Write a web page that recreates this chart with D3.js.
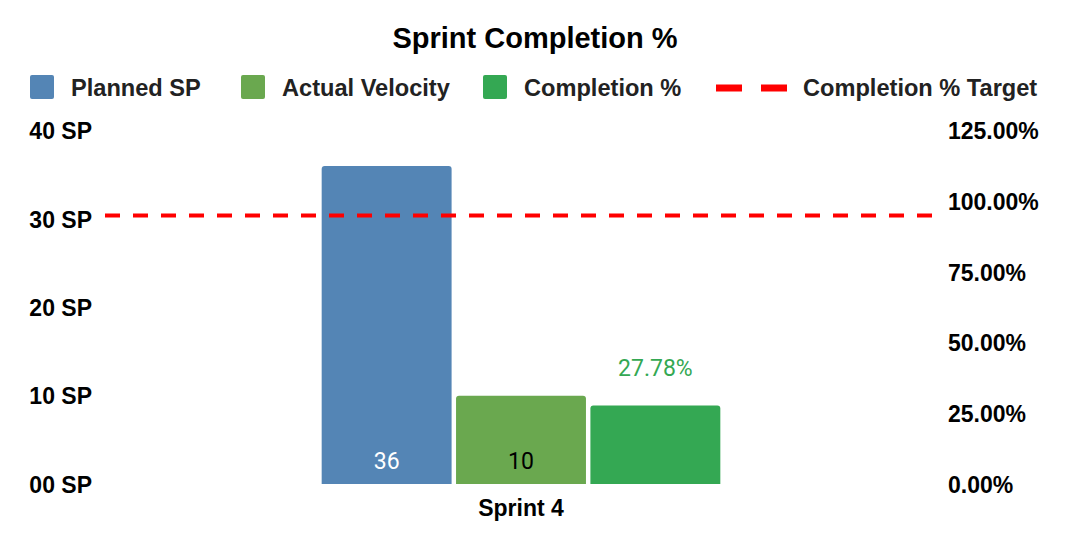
<!DOCTYPE html>
<html>
<head>
<meta charset="utf-8">
<script src="https://cdn.jsdelivr.net/npm/d3@7"></script>
<style>
  html, body { margin: 0; padding: 0; background: #fff; }
  svg { display: block; }
</style>
</head>
<body>
<svg id="chart" width="1070" height="548"></svg>
<script>
// ---- data ----
const categories = ["Sprint 4"];
const seriesNames = ["Planned SP", "Actual Velocity", "Completion %"];
const plannedSP = [36];
const actualVelocity = [10];
const completionPct = [0.2778];
const completionTarget = [0.95];
const leftTicks = [0, 10, 20, 30, 40];
const rightTicks = [0, 0.25, 0.5, 0.75, 1.0, 1.25];
const legendLabels = ["Planned SP", "Actual Velocity", "Completion %", "Completion % Target"];
const colors = ["#5485b5", "#6aa84f", "#34a853", "#ff0000"];

const svg = d3.select("#chart");
const W = 1070, H = 548;
const plot = { left: 105, right: 935, top: 130.7, bottom: 484 };

const x0 = d3.scaleBand().domain(categories).range([plot.left, plot.right]).paddingInner(0).paddingOuter(0.541);
const x1 = d3.scaleBand().domain(seriesNames).range([0, x0.bandwidth()]).paddingInner(0.033).paddingOuter(0);
const yL = d3.scaleLinear().domain([0, 40]).range([plot.bottom, plot.top]);
const yR = d3.scaleLinear().domain([0, 1.25]).range([plot.bottom, plot.top]);

const FONT = "'Liberation Sans', Arial, Helvetica, sans-serif";
const FONT2 = "Roboto, 'Liberation Sans', Arial, sans-serif";

// Title
svg.append("text").attr("x", 535).attr("y", 48).attr("text-anchor", "middle")
  .attr("font-family", FONT).attr("font-weight", "bold").attr("font-size", 29)
  .attr("fill", "#000").text("Sprint Completion %");

// Legend
const legendX = [30, 241, 483, 716];
const legend = svg.append("g");
legendLabels.forEach((lab, i) => {
  const g = legend.append("g").attr("transform", `translate(${legendX[i]},0)`);
  const symW = i === 3 ? 71 : 24;
  if (i === 3) {
    g.append("line").attr("x1", 0).attr("x2", symW).attr("y1", 88).attr("y2", 88)
      .attr("stroke", colors[3]).attr("stroke-width", 7).attr("stroke-dasharray", "26 19");
  } else {
    g.append("rect").attr("x", 0).attr("y", 75).attr("width", 24).attr("height", 24)
      .attr("rx", 2).attr("fill", colors[i]);
  }
  g.append("text").attr("x", symW + (i === 3 ? 16 : 17)).attr("y", 96)
    .attr("font-family", FONT).attr("font-weight", "bold").attr("font-size", 23.6)
    .attr("fill", "#222").text(lab);
});

// Left axis
const axL = svg.append("g").attr("transform", `translate(92,0)`)
  .call(d3.axisLeft(yL).tickValues(leftTicks).tickSize(0).tickPadding(0)
    .tickFormat(d => d3.format("02d")(d) + " SP"));
axL.select(".domain").remove();
axL.selectAll("text").attr("font-family", FONT).attr("font-weight", "bold")
  .attr("font-size", 23).attr("fill", "#000").attr("dy", "0.36em");

// Right axis
const axR = svg.append("g").attr("transform", `translate(948,0)`)
  .call(d3.axisRight(yR).tickValues(rightTicks).tickSize(0).tickPadding(0)
    .tickFormat(d3.format(".2%")));
axR.select(".domain").remove();
axR.selectAll("text").attr("font-family", FONT).attr("font-weight", "bold")
  .attr("font-size", 23).attr("fill", "#000").attr("dy", "0.36em");

// Bars
function topRounded(x, y, w, h, r) {
  r = Math.min(r, h, w / 2);
  return `M${x},${y + h}V${y + r}Q${x},${y} ${x + r},${y}H${x + w - r}Q${x + w},${y} ${x + w},${y + r}V${y + h}Z`;
}
const rows = categories.map((c, i) => ({
  cat: c,
  vals: [
    { s: seriesNames[0], y: yL(plannedSP[i]), v: plannedSP[i] },
    { s: seriesNames[1], y: yL(actualVelocity[i]), v: actualVelocity[i] },
    { s: seriesNames[2], y: yR(completionPct[i]), v: completionPct[i] }
  ]
}));
const groups = svg.selectAll("g.grp").data(rows).enter().append("g").attr("class", "grp")
  .attr("transform", d => `translate(${x0(d.cat) + 1},0)`);
groups.selectAll("path").data(d => d.vals).enter().append("path")
  .attr("d", d => topRounded(x1(d.s), d.y, x1.bandwidth(), plot.bottom - d.y, 3))
  .attr("fill", (d, i) => colors[i]);

// Data labels
groups.each(function (d) {
  const g = d3.select(this);
  const v = d.vals;
  g.append("text").attr("x", x1(v[0].s) + x1.bandwidth() / 2).attr("y", 469)
    .attr("text-anchor", "middle").attr("font-family", FONT2).attr("font-size", 23)
    .attr("fill", "#fff").text(v[0].v);
  g.append("text").attr("x", x1(v[1].s) + x1.bandwidth() / 2).attr("y", 469)
    .attr("text-anchor", "middle").attr("font-family", FONT2).attr("font-size", 23)
    .attr("fill", "#000").text(v[1].v);
  g.append("text").attr("x", x1(v[2].s) + x1.bandwidth() / 2).attr("y", v[2].y - 29)
    .attr("text-anchor", "middle").attr("font-family", FONT2).attr("font-size", 23)
    .attr("fill", colors[2]).text(d3.format(".2%")(v[2].v));
});

// Target line
svg.append("line").attr("x1", plot.left).attr("x2", plot.right)
  .attr("y1", yR(completionTarget[0])).attr("y2", yR(completionTarget[0]))
  .attr("stroke", colors[3]).attr("stroke-width", 4).attr("stroke-dasharray", "15 13");

// Category label
svg.append("text").attr("x", x0(categories[0]) + x0.bandwidth() / 2 + 1).attr("y", 516)
  .attr("text-anchor", "middle").attr("font-family", FONT).attr("font-weight", "bold")
  .attr("font-size", 23).attr("fill", "#000").text(categories[0]);
</script>
</body>
</html>
